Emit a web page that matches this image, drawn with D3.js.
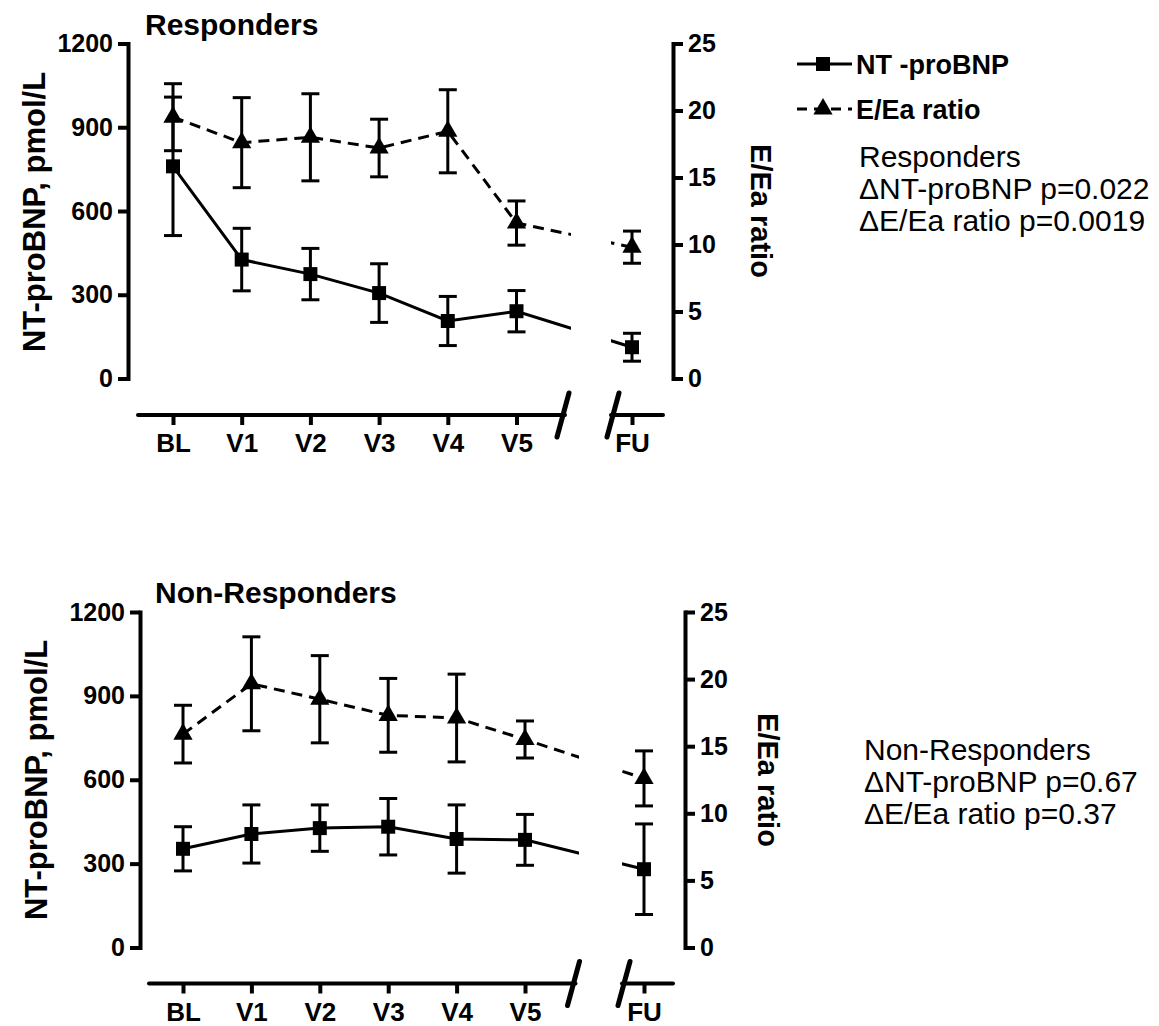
<!DOCTYPE html>
<html>
<head>
<meta charset="utf-8">
<script src="https://cdn.jsdelivr.net/npm/d3@7"></script>
<style>
  body { margin: 0; background: #fff; }
  svg text { font-family: "Liberation Sans", Arial, Helvetica, sans-serif; fill: #000; }
</style>
</head>
<body>
<svg id="chart" width="1159" height="1026"></svg>
<script>
// Visits and axis ticks
const visits = ["BL", "V1", "V2", "V3", "V4", "V5", "FU"];
const bnpTicks = [0, 300, 600, 900, 1200];
const eeaTicks = [0, 5, 10, 15, 20, 25];

// Responders: NT-proBNP (pmol/L) and E/Ea ratio, mean and SEM per visit
const respBnp   = [760, 426, 374, 306, 206, 241, 112];
const respBnpSe = [248, 112, 92, 105, 88, 74, 50];
const respEea   = [19.5, 17.6, 18.0, 17.2, 18.45, 11.6, 9.8];
const respEeaSe = [2.5, 3.36, 3.25, 2.15, 3.1, 1.65, 1.2];

// Non-responders
const nonBnp   = [353, 406, 427, 432, 388, 385, 280];
const nonBnpSe = [79, 104, 83, 101, 122, 91, 162];
const nonEea   = [15.9, 19.65, 18.5, 17.3, 17.1, 15.5, 12.6];
const nonEeaSe = [2.15, 3.5, 3.25, 2.75, 3.27, 1.38, 2.05];

// Legend and p-value notes
const seriesNames = ["NT -proBNP", "E/Ea ratio"];
const respNotes = ["Responders", "\u0394NT-proBNP p=0.022", "\u0394E/Ea ratio p=0.0019"];
const nonNotes  = ["Non-Responders", "\u0394NT-proBNP p=0.67", "\u0394E/Ea ratio p=0.37"];

const svg = d3.select("#chart");
const FONT = '"Liberation Sans", Arial, Helvetica, sans-serif';

const panels = [
  {
    id: "resp", title: "Responders",
    bnp: respBnp, bnpSe: respBnpSe, eea: respEea, eeaSe: respEeaSe, notes: respNotes,
    L: { axL: 128, axR: 673, yTop: 43.5, yBot: 378.5, xAxY: 415, x0: 173, x5: 516.5, xFU: 632,
         xStart: 138, xEnd: 663, slashA: 563, slashB: 613, gapA: 571, gapB: 611,
         titleX: 145, titleY: 35, yTitleX: 45, yTitleY: 212, rTitleX: 751, rTitleY: 211,
         noteX: 859, noteY: 167 }
  },
  {
    id: "non", title: "Non-Responders",
    bnp: nonBnp, bnpSe: nonBnpSe, eea: nonEea, eeaSe: nonEeaSe, notes: nonNotes,
    L: { axL: 140, axR: 685, yTop: 612, yBot: 947.5, xAxY: 983.5, x0: 183, x5: 525, xFU: 644,
         xStart: 149, xEnd: 673, slashA: 573.5, slashB: 624, gapA: 579, gapB: 622,
         titleX: 155, titleY: 603, yTitleX: 47, yTitleY: 780, rTitleX: 758, rTitleY: 780,
         noteX: 864, noteY: 760 }
  }
];

const sq = d3.symbol().type(d3.symbolSquare).size(196);
const tri = d3.symbol().type(d3.symbolTriangle).size(160);

panels.forEach(p => {
  const L = p.L;
  const g = svg.append("g");

  // piecewise x scale: evenly spaced visits, then a broken gap to follow-up
  const x = d3.scaleLinear().domain([0, 5, 6]).range([L.x0, L.x5, L.xFU]);
  const yL = d3.scaleLinear().domain([0, 1200]).range([L.yBot, L.yTop]);
  const yR = d3.scaleLinear().domain([0, 25]).range([L.yBot, L.yTop]);

  // clip that hides the connecting line inside the axis break
  const clipId = "gap-" + p.id;
  const cp = svg.append("defs").append("clipPath").attr("id", clipId);
  cp.append("rect").attr("x", 0).attr("y", 0).attr("width", L.gapA).attr("height", 1026);
  cp.append("rect").attr("x", L.gapB).attr("y", 0).attr("width", 1159 - L.gapB).attr("height", 1026);

  // left axis
  const axL = g.append("g").attr("transform", `translate(${L.axL},0)`)
    .call(d3.axisLeft(yL).tickValues(bnpTicks).tickFormat(d3.format("d"))
      .tickSize(10).tickSizeOuter(0).tickPadding(5));
  // right axis
  const axR = g.append("g").attr("transform", `translate(${L.axR},0)`)
    .call(d3.axisRight(yR).tickValues(eeaTicks).tickFormat(d3.format("d"))
      .tickSize(10).tickSizeOuter(0).tickPadding(5));
  [axL, axR].forEach(a => {
    a.select(".domain").attr("stroke-width", 4).attr("stroke-linecap", "square");
    a.selectAll(".tick line").attr("stroke-width", 4);
    a.selectAll(".tick text").attr("font-family", FONT).attr("font-size", 25)
      .attr("font-weight", "bold").attr("fill", "#000");
  });

  // bottom axis with break
  const axB = g.append("g").attr("transform", `translate(0,${L.xAxY})`)
    .call(d3.axisBottom(x).tickValues(d3.range(visits.length)).tickFormat(i => visits[i])
      .tickSize(10).tickPadding(9));
  axB.select(".domain").remove();
  axB.selectAll(".tick line").attr("stroke-width", 4);
  axB.selectAll(".tick text").attr("font-family", FONT).attr("font-size", 26)
    .attr("font-weight", "bold").attr("fill", "#000");
  g.append("line").attr("x1", L.xStart).attr("x2", L.slashA + 2).attr("y1", L.xAxY).attr("y2", L.xAxY)
    .attr("stroke", "#000").attr("stroke-width", 4).attr("stroke-linecap", "round");
  g.append("line").attr("x1", L.slashB - 2).attr("x2", L.xEnd).attr("y1", L.xAxY).attr("y2", L.xAxY)
    .attr("stroke", "#000").attr("stroke-width", 4).attr("stroke-linecap", "round");
  [L.slashA, L.slashB].forEach(cx => {
    g.append("line").attr("x1", cx - 6).attr("y1", L.xAxY + 22).attr("x2", cx + 6).attr("y2", L.xAxY - 22)
      .attr("stroke", "#000").attr("stroke-width", 5).attr("stroke-linecap", "round");
  });

  // series lines
  const lineL = d3.line().x((d, i) => x(i)).y(d => yL(d));
  const lineR = d3.line().x((d, i) => x(i)).y(d => yR(d));
  g.append("path").datum(p.bnp).attr("d", lineL).attr("fill", "none").attr("stroke", "#000")
    .attr("stroke-width", 3).attr("clip-path", `url(#${clipId})`);
  g.append("path").datum(p.eea).attr("d", lineR).attr("fill", "none").attr("stroke", "#000")
    .attr("stroke-width", 3).attr("stroke-dasharray", "11,7").attr("clip-path", `url(#${clipId})`);

  // error bars (mean ± SEM)
  function errBars(vals, ses, ys) {
    const eb = g.append("g").attr("stroke", "#000").attr("stroke-width", 3);
    vals.forEach((v, i) => {
      const cx = x(i), top = ys(v + ses[i]), bot = ys(v - ses[i]);
      eb.append("line").attr("x1", cx).attr("x2", cx).attr("y1", top).attr("y2", bot);
      eb.append("line").attr("x1", cx - 9).attr("x2", cx + 9).attr("y1", top).attr("y2", top);
      eb.append("line").attr("x1", cx - 9).attr("x2", cx + 9).attr("y1", bot).attr("y2", bot);
    });
  }
  errBars(p.bnp, p.bnpSe, yL);
  errBars(p.eea, p.eeaSe, yR);

  // markers
  g.append("g").selectAll("path").data(p.bnp).join("path")
    .attr("d", sq).attr("transform", (d, i) => `translate(${x(i)},${yL(d)})`).attr("fill", "#000");
  g.append("g").selectAll("path").data(p.eea).join("path")
    .attr("d", tri).attr("transform", (d, i) => `translate(${x(i)},${yR(d)})`).attr("fill", "#000");

  // titles
  g.append("text").attr("x", L.titleX).attr("y", L.titleY).attr("font-size", 30)
    .attr("font-weight", "bold").text(p.title);
  g.append("text").attr("transform", `translate(${L.yTitleX},${L.yTitleY}) rotate(-90)`)
    .attr("text-anchor", "middle").attr("font-size", 31).attr("font-weight", "bold")
    .text("NT-proBNP, pmol/L");
  g.append("text").attr("transform", `translate(${L.rTitleX},${L.rTitleY}) rotate(90)`)
    .attr("text-anchor", "middle").attr("font-size", 29).attr("font-weight", "bold")
    .text("E/Ea ratio");

  // p-value notes
  g.append("g").selectAll("text").data(p.notes).join("text")
    .attr("x", L.noteX).attr("y", (d, i) => L.noteY + i * 32)
    .attr("font-size", 30).text(d => d);
});

// legend
const lg = svg.append("g");
const legRows = [{ y: 64, dash: null, sym: sq }, { y: 109, dash: "10,7", sym: tri }];
legRows.forEach((r, i) => {
  const ln = lg.append("line").attr("x1", 797).attr("x2", 852).attr("y1", r.y).attr("y2", r.y)
    .attr("stroke", "#000").attr("stroke-width", 3);
  if (r.dash) ln.attr("stroke-dasharray", r.dash);
  lg.append("path").attr("d", r.sym).attr("transform", `translate(823,${r.y})`).attr("fill", "#000");
  lg.append("text").attr("x", 856).attr("y", r.y + 10).attr("font-size", 27)
    .attr("font-weight", "bold").text(seriesNames[i]);
});
</script>
</body>
</html>
